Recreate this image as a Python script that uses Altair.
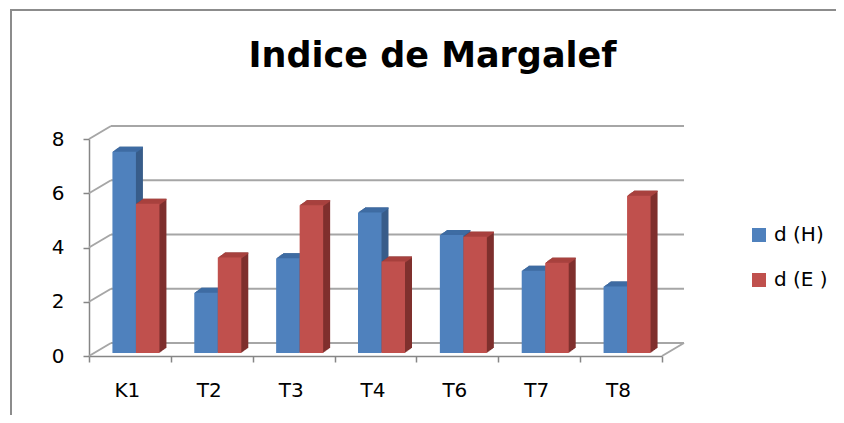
import altair as alt
import pandas as pd

# ---- data ----
categories = ["K1", "T2", "T3", "T4", "T6", "T7", "T8"]
series_names = ["d (H)", "d (E )"]
d_H = [7.42, 2.22, 3.49, 5.18, 4.35, 3.03, 2.45]
d_E = [5.50, 3.52, 5.45, 3.37, 4.29, 3.33, 5.80]
y_ticks = [0, 2, 4, 6, 8]

front_colors = ["#4F81BD", "#C0504D"]
top_colors = ["#3F6CA3", "#A8423F"]
side_colors = ["#385D8A", "#7F302E"]

df = pd.DataFrame({
    "cat": categories * 2,
    "series": [series_names[0]] * len(categories) + [series_names[1]] * len(categories),
    "value": d_H + d_E,
})
ticks_df = pd.DataFrame({"tick": y_ticks})

# ---- styling ----
FONT = "DejaVu Sans"
W, H = 573, 217
WALL_DX, WALL_DY = 22, 13
DEPTH_DX, DEPTH_DY = 7, 5
FRONT_DX, FRONT_DY = 6, 3
BAR_W = 23.5
BAR_SHIFT = [-11.75, 11.75]
GRID = "#A6A6A6"
AXIS = "#868686"
FRAME = "#8C8C8C"
PAD = {"left": 81, "top": 131, "right": 174, "bottom": 59}

x_enc = alt.X(
    "cat:N", sort=categories, title=None,
    scale=alt.Scale(paddingInner=0, paddingOuter=0),
    axis=alt.Axis(labelAngle=0, tickBand="extent", tickSize=6, tickColor=AXIS, grid=False,
                  tickWidth=1.5, domainColor=AXIS, domainWidth=1.5, labelFont=FONT,
                  labelFontSize=20, labelColor="#000000", labelPadding=18, labelOffset=-3),
)
y_scale = alt.Scale(domain=[0, 8], nice=False, zero=True)
y_axis = alt.Axis(values=y_ticks, grid=False, tickSize=6, tickColor=AXIS, tickWidth=1.5,
                  domainColor=AXIS, domainWidth=1.5, labelFont=FONT, labelFontSize=20,
                  labelColor="#000000", labelPadding=19)


def yq(name, axis=None):
    if axis is None:
        return alt.Y(name, type="quantitative", scale=y_scale, title=None)
    return alt.Y(name, type="quantitative", scale=y_scale, title=None, axis=axis)


# back wall gridlines, side wall diagonals and floor edge
grid_back = alt.Chart(ticks_df).mark_rule(color=GRID, strokeWidth=2, yOffset=-WALL_DY).encode(
    x=alt.value(WALL_DX), x2=alt.value(W + WALL_DX), y=yq("tick", y_axis))
grid_side = alt.Chart(ticks_df).mark_rule(color=GRID, strokeWidth=2, y2Offset=-WALL_DY).encode(
    x=alt.value(0), x2=alt.value(WALL_DX), y=yq("tick"), y2="tick:Q")
floor_right = alt.Chart(ticks_df).transform_filter("datum.tick == 0").mark_rule(
    color=GRID, strokeWidth=2, y2Offset=-WALL_DY).encode(
    x=alt.value(W), x2=alt.value(W + WALL_DX), y=yq("tick"), y2="tick:Q")

legend = alt.Legend(title=None, orient="none", legendX=660, legendY=86, symbolType="square",
                    symbolSize=196, symbolStrokeWidth=0, labelFont=FONT, labelFontSize=20,
                    labelColor="#000000", labelOffset=5, rowPadding=25, padding=0)


def bar_layers(j):
    src = alt.Chart(df).transform_filter(alt.datum.series == series_names[j])
    shift = BAR_SHIFT[j]
    n = 8
    out = []
    for k in range(n, 0, -1):
        s = k / n
        out.append(src.mark_bar(width=BAR_W, color=side_colors[j],
                                xOffset=shift + FRONT_DX + s * DEPTH_DX,
                                yOffset=-FRONT_DY - s * DEPTH_DY).encode(x=x_enc, y=yq("value")))
    for k in range(n, 0, -1):
        s = k / n
        off = -FRONT_DY - s * DEPTH_DY
        out.append(src.transform_calculate(vtop="datum.value - 0.05").mark_bar(
            width=BAR_W, color=top_colors[j], xOffset=shift + FRONT_DX + s * DEPTH_DX,
            yOffset=off, y2Offset=off).encode(x=x_enc, y=yq("value"), y2="vtop:Q"))
    out.append(src.mark_bar(width=BAR_W, xOffset=shift + FRONT_DX, yOffset=-FRONT_DY).encode(
        x=x_enc, y=yq("value"),
        color=alt.Color("series:N", scale=alt.Scale(domain=series_names, range=front_colors),
                        legend=legend)))
    return out


# chart-area border: only its top and left edges fall inside the picture
one = alt.Chart(ticks_df).transform_filter("datum.tick == 0")
frame = one.mark_rect(fill=None, fillOpacity=0, stroke=FRAME, strokeWidth=2).encode(
    x=alt.value(-78), x2=alt.value(W + PAD["right"] + 40),
    y=alt.value(-129), y2=alt.value(H + PAD["bottom"] + 40))

layers = [grid_back, grid_side, floor_right] + bar_layers(0) + bar_layers(1) + [frame]

chart = alt.layer(*layers).properties(
    width=W, height=H,
    background="white",
    title=alt.Title("Indice de Margalef", font=FONT, fontSize=35, fontWeight="bold",
                    color="#000000", anchor="middle", dx=57, offset=-65),
    padding=PAD,
    autosize=alt.AutoSizeParams(type="none"),
).configure_view(stroke=None)

chart.save("out.html", embed_options={"renderer": "svg", "actions": False})
